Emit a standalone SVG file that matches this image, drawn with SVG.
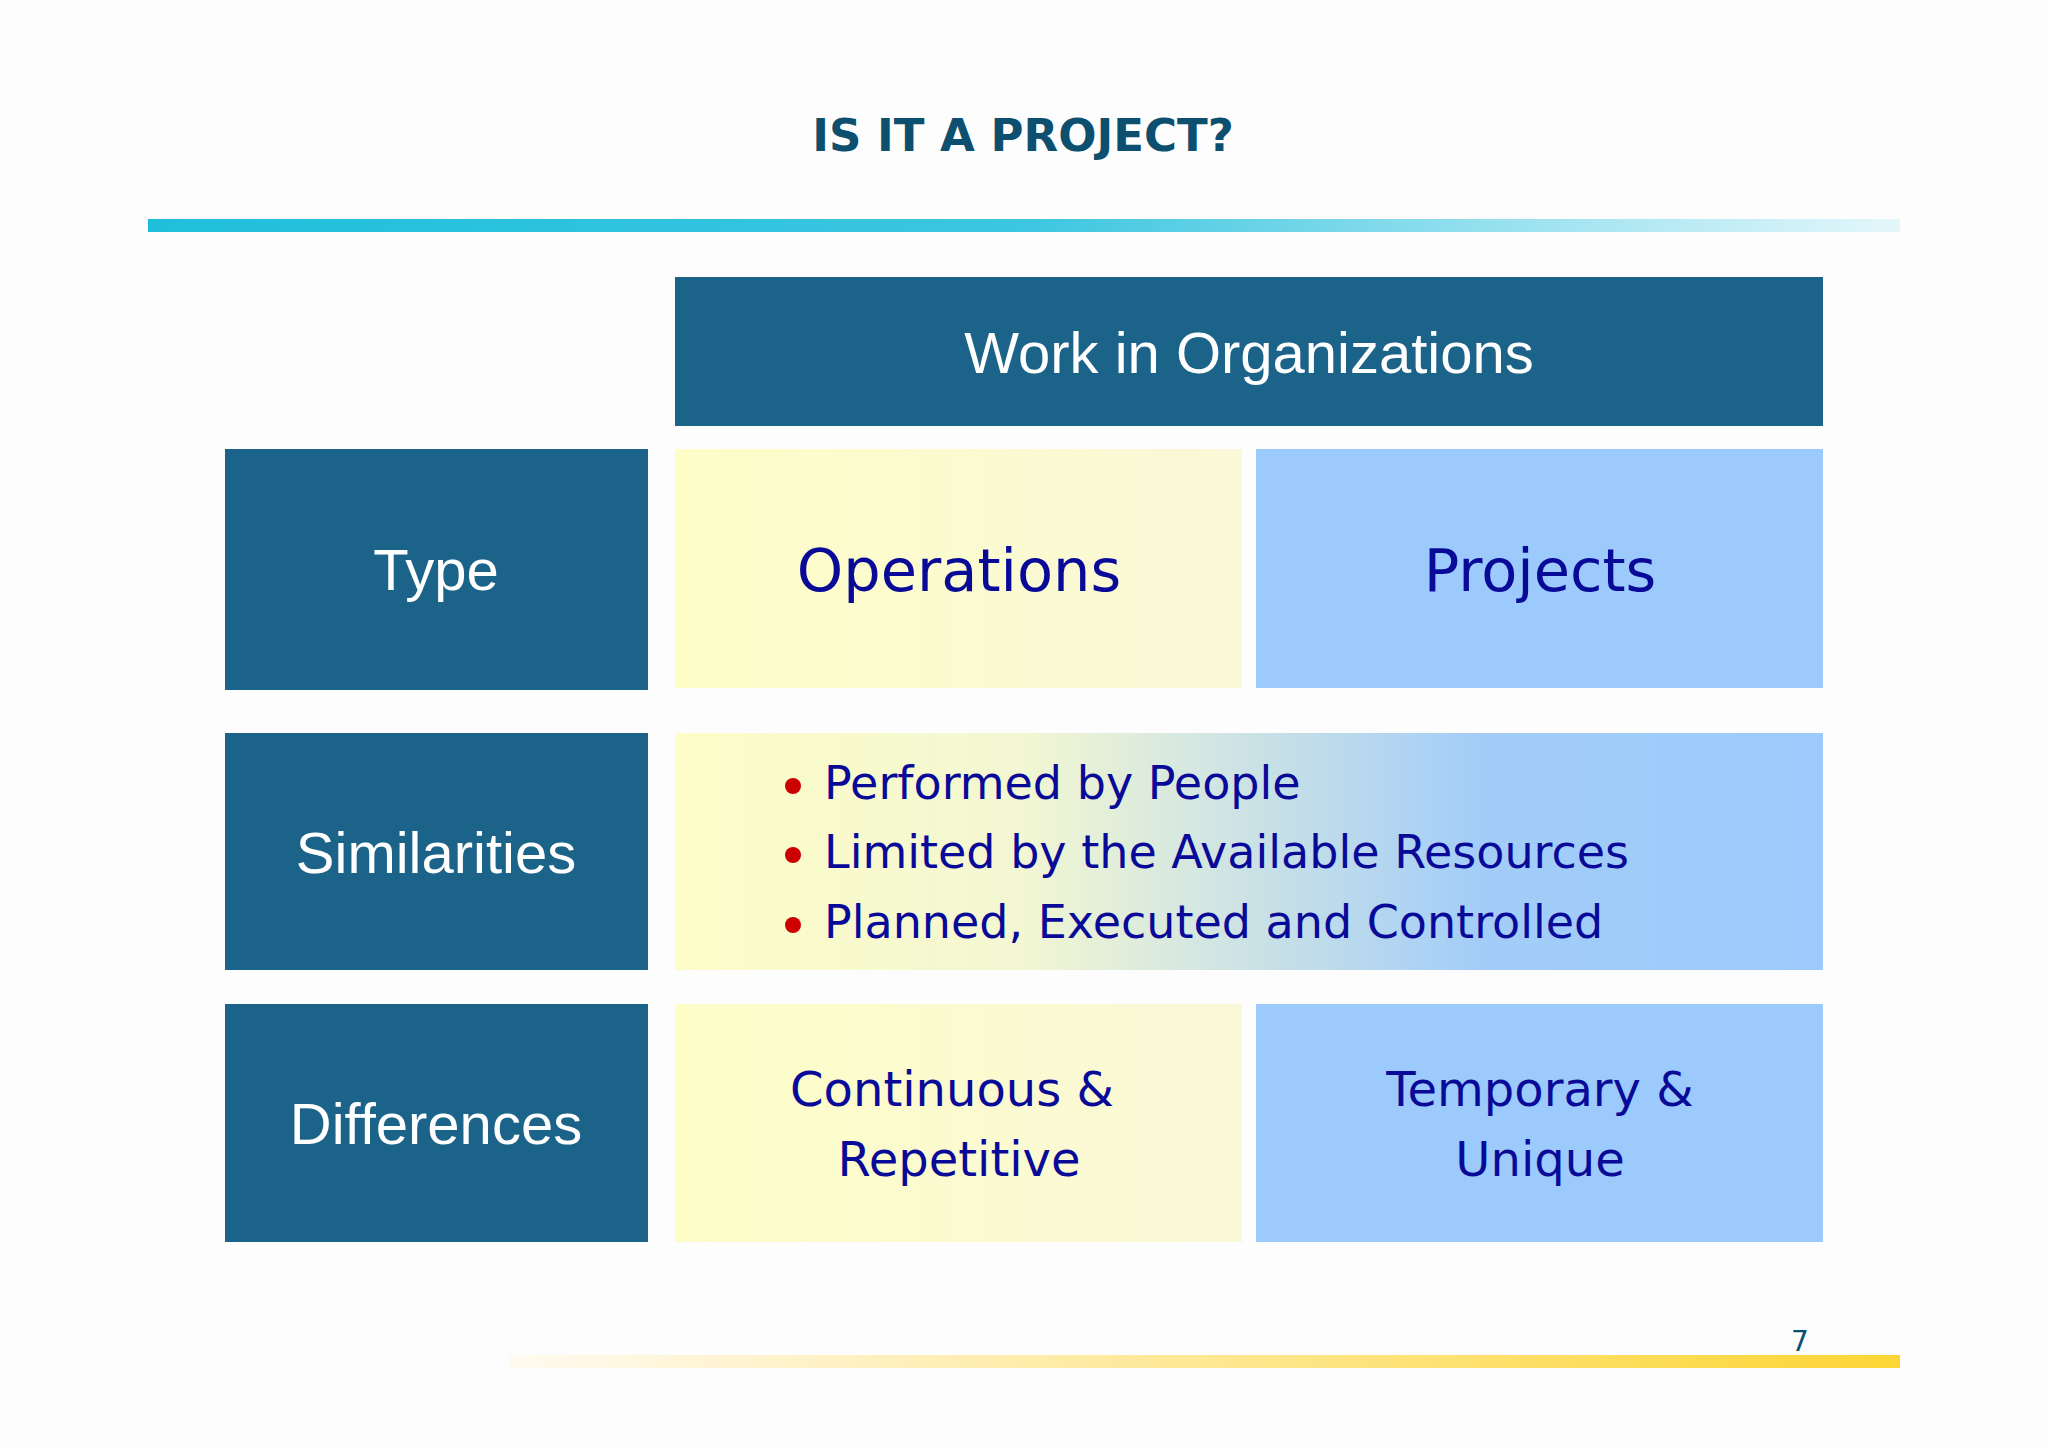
<svg xmlns="http://www.w3.org/2000/svg" width="2048" height="1447" viewBox="0 0 2048 1447">
<defs>
<linearGradient id="top" x1="0" x2="1"><stop offset="0" stop-color="#1fbfdc"/><stop offset="0.5" stop-color="#3cc6e0"/><stop offset="1" stop-color="#e4f7fb"/></linearGradient>
<linearGradient id="bot" x1="0" x2="1"><stop offset="0" stop-color="#fffaf0"/><stop offset="1" stop-color="#fcd535"/></linearGradient>
<linearGradient id="yel" x1="0" x2="1"><stop offset="0" stop-color="#fdfdc8"/><stop offset="1" stop-color="#f9f8d8"/></linearGradient>
<linearGradient id="mix" x1="0" x2="1"><stop offset="0" stop-color="#fdfdc8"/><stop offset="0.3" stop-color="#f3f7d2"/><stop offset="0.7" stop-color="#a3cdf8"/><stop offset="1" stop-color="#9ccafc"/></linearGradient>
<style>
.dk{fill:#1b6389}
.lab{font-family:"Liberation Sans",Arial,sans-serif;fill:#fff;text-anchor:middle}
.vb{font-family:"DejaVu Sans",Verdana,sans-serif;fill:#0a0a99;text-anchor:middle}
.bl{font-family:"DejaVu Sans",Verdana,sans-serif;fill:#0a0a99;font-size:46px}
</style>
</defs>
<rect width="2048" height="1447" fill="#fdfdfd"/>
<text x="1023" y="151" text-anchor="middle" font-family="DejaVu Sans,Verdana,sans-serif" font-weight="bold" font-size="45" fill="#0d4f6e">IS IT A PROJECT?</text>
<rect x="148" y="219" width="1752" height="13" fill="url(#top)"/>
<rect x="509" y="1355" width="1391" height="13" fill="url(#bot)"/>
<text x="1800" y="1351" text-anchor="middle" font-family="DejaVu Sans,Verdana,sans-serif" font-size="28" fill="#0d4f6e">7</text>
<g id="header"><rect x="675" y="277" width="1148" height="149" class="dk"/><text x="1249" y="373" class="lab" font-size="58">Work in Organizations</text></g>
<g id="type"><rect x="225" y="449" width="423" height="241" class="dk"/><text x="436" y="590" class="lab" font-size="58">Type</text></g>
<g id="operations"><rect x="675" y="449" width="567" height="239" fill="url(#yel)"/><text x="959" y="591" class="vb" font-size="59">Operations</text></g>
<g id="projects"><rect x="1256" y="449" width="567" height="239" fill="#9ccafc"/><text x="1540" y="591" class="vb" font-size="59">Projects</text></g>
<g id="similarities"><rect x="225" y="733" width="423" height="237" class="dk"/><text x="436" y="873" class="lab" font-size="58">Similarities</text></g>
<g id="simtext"><rect x="675" y="733" width="1148" height="237" fill="url(#mix)"/>
<g fill="#cc0000"><circle cx="793" cy="786" r="8"/><circle cx="793" cy="855" r="8"/><circle cx="793" cy="925" r="8"/></g>
<text x="824" y="799" class="bl">Performed by People</text>
<text x="824" y="868" class="bl">Limited by the Available Resources</text>
<text x="824" y="938" class="bl">Planned, Executed and Controlled</text></g>
<g id="differences"><rect x="225" y="1004" width="423" height="238" class="dk"/><text x="436" y="1144" class="lab" font-size="58">Differences</text></g>
<g id="cont"><rect x="675" y="1004" width="567" height="238" fill="url(#yel)"/><text x="952" y="1106" class="vb" font-size="48">Continuous &amp;</text><text x="959" y="1176" class="vb" font-size="48">Repetitive</text></g>
<g id="temp"><rect x="1256" y="1004" width="567" height="238" fill="#9ccafc"/><text x="1540" y="1106" class="vb" font-size="48">Temporary &amp;</text><text x="1540" y="1176" class="vb" font-size="48">Unique</text></g>
<g id="connectors"/>
</svg>
